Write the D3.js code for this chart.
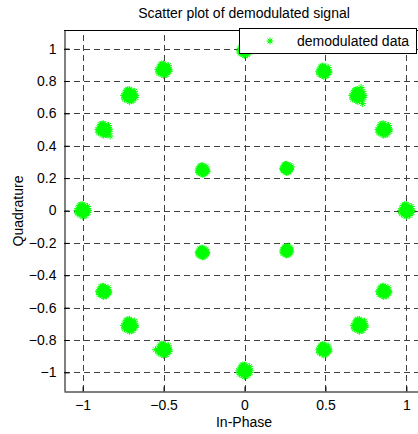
<!DOCTYPE html>
<html>
<head>
<meta charset="utf-8">
<script src="https://cdn.jsdelivr.net/npm/d3@7"></script>
<style>
  html, body { margin: 0; padding: 0; background: #fff; }
  svg { display: block; font-family: "Liberation Sans", Arial, sans-serif; }
</style>
</head>
<body>
<svg id="chart" width="418" height="434"></svg>
<script>
// ---- data ----
const title = "Scatter plot of demodulated signal";
const xLabel = "In-Phase";
const yLabel = "Quadrature";
const legendLabel = "demodulated data";
const xTicks = [-1, -0.5, 0, 0.5, 1];
const yTicks = [-1, -0.8, -0.6, -0.4, -0.2, 0, 0.2, 0.4, 0.6, 0.8, 1];
// cluster centres (In-Phase, Quadrature)
const clusterI = [1.00, 0.86, 0.70, 0.49, 0.00, -0.50, -0.71, -0.87, -1.00, -0.87, -0.71, -0.50, 0.00, 0.49, 0.71, 0.86, -0.26, 0.26, -0.26, 0.26];
const clusterQ = [0.00, 0.50, 0.71, 0.86, 0.99, 0.87, 0.71, 0.50, 0.00, -0.50, -0.71, -0.86, -0.99, -0.86, -0.71, -0.50, 0.25, 0.26, -0.26, -0.25];
// relative spread of each cluster
const clusterSpread = [1.0, 1.0, 1.05, 0.9, 0.9, 1.0, 1.05, 1.0, 1.0, 0.9, 1.05, 1.0, 1.0, 0.9, 1.05, 0.9, 0.75, 0.7, 0.75, 0.7];
// spread of samples around a cluster centre (hundredths of a unit)
const sampleDI = [0, 1, -1, 1, -1, 2, -2, 0, 0, 2, -2, 2, -2, 3, -3, 3, -3, 1, -1, 1, -1, 3.5, -3.5, 0, 0, 3, -3, 2, -2, 3.5, -1, 0.5, -0.5];
const sampleDQ = [0, 1, 1, -1, -1, 0, 0, 2, -2, 2, 2, -2, -2, 1, 1, -1, -1, 3, 3, -3, -3, 0, 0, 3.5, -3.5, 2.5, -2, -3, 3, -1, 3.5, 0.5, -0.5];
// stray samples
const strayI = [-0.83, -0.85, -0.55, 0.72, 0.73, 0.29, 0.27, -0.23, 0.28];
const strayQ = [0.46, 0.47, -0.86, 0.76, 0.66, 0.27, -0.22, 0.24, -0.23];

// ---- layout ----
const svg = d3.select("#chart");
const mLeft = 64, mTop = 30, mBottom = 391, mRight = 425;
const x = d3.scaleLinear().domain([-1.115, 1.115]).range([mLeft, mRight]);
const y = d3.scaleLinear().domain([-1.115, 1.115]).range([mBottom, mTop]);
const green = "#00ff00";
const star = r => {
  const a = r * 0.7071;
  return `M${-r},0L${r},0M0,${-r}L0,${r}M${-a},${-a}L${a},${a}M${-a},${a}L${a},${-a}`;
};
const px = v => Math.round(v) + 0.5;

// grid
const grid = svg.append("g").attr("stroke", "#404040").attr("stroke-width", 1)
  .attr("stroke-dasharray", "6,4");
grid.selectAll("line.gx").data(xTicks).join("line").attr("class", "gx")
  .attr("x1", d => px(x(d))).attr("x2", d => px(x(d)))
  .attr("y1", mBottom).attr("y2", mTop);
grid.selectAll("line.gy").data(yTicks).join("line").attr("class", "gy")
  .attr("y1", d => px(y(d))).attr("y2", d => px(y(d)))
  .attr("x1", mLeft).attr("x2", mRight);

// samples
const samples = [];
clusterI.forEach((ci, k) => {
  const s = clusterSpread[k] / 100;
  sampleDI.forEach((di, j) => {
    samples.push([ci + di * s, clusterQ[k] + sampleDQ[j] * s]);
  });
});
strayI.forEach((si, k) => samples.push([si, strayQ[k]]));
svg.append("g").attr("stroke", green).attr("stroke-width", 1).attr("fill", "none")
  .selectAll("path").data(samples).join("path")
  .attr("transform", d => `translate(${x(d[0])},${y(d[1])})`)
  .attr("d", star(3.5));

// axes
const xAxis = d3.axisBottom(x).tickValues(xTicks).tickSizeInner(-5).tickSizeOuter(0)
  .tickPadding(9).tickFormat(d3.format("~g"));
const gx = svg.append("g").attr("transform", `translate(0,${px(mBottom)})`).call(xAxis);
const yAxis = d3.axisLeft(y).tickValues(yTicks).tickSizeInner(-5).tickSizeOuter(0)
  .tickPadding(8).tickFormat(d3.format("~g"));
const gy = svg.append("g").attr("transform", `translate(${px(mLeft)},0)`).call(yAxis);
[gx, gy].forEach(g => {
  g.select(".domain").attr("stroke", "#000");
  g.selectAll(".tick line").attr("stroke", "#000");
  g.selectAll(".tick text").attr("fill", "#000").attr("font-size", 14)
    .attr("font-family", "Liberation Sans, Arial, sans-serif");
});
// top border
svg.append("line").attr("x1", mLeft).attr("x2", mRight).attr("y1", px(mTop)).attr("y2", px(mTop))
  .attr("stroke", "#000");

// labels
svg.append("text").attr("x", 244).attr("y", 17.5).attr("text-anchor", "middle")
  .attr("font-size", 14).text(title);
svg.append("text").attr("x", 244).attr("y", 427).attr("text-anchor", "middle")
  .attr("font-size", 14).text(xLabel);
svg.append("text").attr("transform", "translate(23,211) rotate(-90)").attr("text-anchor", "middle")
  .attr("font-size", 14).text(yLabel);

// legend
const lg = svg.append("g");
lg.append("rect").attr("x", 239.5).attr("y", 28.5).attr("width", 177).attr("height", 25)
  .attr("fill", "#fff").attr("stroke", "#000");
lg.append("path").attr("transform", "translate(270,41)").attr("d", star(3.5))
  .attr("stroke", green).attr("fill", "none");
lg.append("path").attr("transform", "translate(270,41)").attr("d", star(2))
  .attr("stroke", green).attr("fill", "none");
lg.append("text").attr("x", 297).attr("y", 46).attr("font-size", 14).text(legendLabel);
</script>
</body>
</html>
